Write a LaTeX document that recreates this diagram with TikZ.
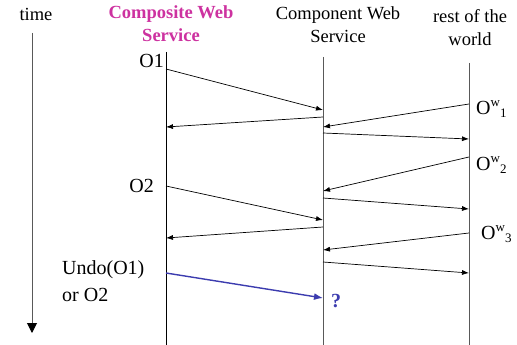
\documentclass[tikz,border=0pt]{standalone}
\usepackage{fontspec}
\setmainfont{Liberation Serif}
\usetikzlibrary{arrows.meta}
\definecolor{magtitle}{RGB}{205,50,160}
\definecolor{undoblue}{RGB}{60,60,175}
\tikzset{
  lifeline/.style={draw=black!65, line width=1pt},
  msg/.style={draw=black, line width=0.7pt, -{Latex[length=7pt,width=5pt]}},
  undomsg/.style={draw=undoblue, line width=1.4pt, -{Latex[length=9pt,width=7pt]}},
  head/.style={font=\fontsize{18.5}{23}\selectfont, align=center, anchor=base, inner sep=0pt},
  oplabel/.style={font=\fontsize{20}{25}\selectfont, inner sep=0pt},
}
\newcommand{\owlab}[1]{O\raisebox{8pt}{\fontsize{13}{13}\selectfont w}\raisebox{-3pt}{\fontsize{13}{13}\selectfont #1}}
\begin{document}
\begin{tikzpicture}[x=1pt,y=-1pt]
\useasboundingbox (0,0) rectangle (517,345);
% headers (base anchor = baseline of last line)
\node[head] (ht) at (36,21) {time};
\node[head, text=magtitle, font=\fontsize{18.5}{23}\selectfont\bfseries] (hc) at (171,42) {Composite Web\\Service};
\node[head] (hp) at (338,43) {Component Web\\Service};
\node[head] (hw) at (470,46) {rest of the\\world};
% lifelines
\coordinate (t0) at (32,33); \coordinate (t1) at (32,333);
\coordinate (c0) at (166,52); \coordinate (c1) at (166,345);
\coordinate (p0) at (323,57); \coordinate (p1) at (323,345);
\coordinate (w0) at (469,63); \coordinate (w1) at (469,345);
\draw[lifeline, -{Triangle[length=10pt,width=10pt,color=black]}] (t0) -- (t1);
\draw[lifeline, draw=black] (c0) -- (c1);
\draw[lifeline] (p0) -- (p1);
\draw[lifeline] (w0) -- (w1);
% message endpoints
\coordinate (a1) at (166,69);  \coordinate (b1) at (323,110);
\coordinate (a2) at (323,117); \coordinate (b2) at (166,127);
\coordinate (a3) at (469,104); \coordinate (b3) at (323,127);
\coordinate (a4) at (323,133); \coordinate (b4) at (469,139);
\coordinate (a5) at (469,157); \coordinate (b5) at (323,191);
\coordinate (a6) at (166,186); \coordinate (b6) at (323,220);
\coordinate (a7) at (323,198); \coordinate (b7) at (469,209);
\coordinate (a8) at (323,227); \coordinate (b8) at (166,238);
\coordinate (a9) at (469,233); \coordinate (b9) at (323,250);
\coordinate (a10) at (323,262); \coordinate (b10) at (469,273);
\coordinate (a11) at (166,273); \coordinate (b11) at (323,298);
\draw[msg] (a1) -- (b1);
\draw[msg] (a2) -- (b2);
\draw[msg] (a3) -- (b3);
\draw[msg] (a4) -- (b4);
\draw[msg] (a5) -- (b5);
\draw[msg] (a6) -- (b6);
\draw[msg] (a7) -- (b7);
\draw[msg] (a8) -- (b8);
\draw[msg] (a9) -- (b9);
\draw[msg] (a10) -- (b10);
\draw[undomsg] (a11) -- (b11);
% operation labels
\node[oplabel, anchor=base east] (o1) at (164,68) {O1};
\node[oplabel, anchor=base east] (o2) at (154,192) {O2};
\node[oplabel, anchor=base west, align=left, font=\fontsize{20}{27}\selectfont] (undo) at (62,301) {Undo(O1)\\or O2};
\node[anchor=base west, inner sep=0pt, text=undoblue, font=\fontsize{20}{24}\selectfont\bfseries] (q) at (331,307) {?};
\node[oplabel, anchor=base west] (ow1) at (476,114) {\owlab{1}};
\node[oplabel, anchor=base west] (ow2) at (476,170) {\owlab{2}};
\node[oplabel, anchor=base west] (ow3) at (481,239) {\owlab{3}};
\end{tikzpicture}
\end{document}
